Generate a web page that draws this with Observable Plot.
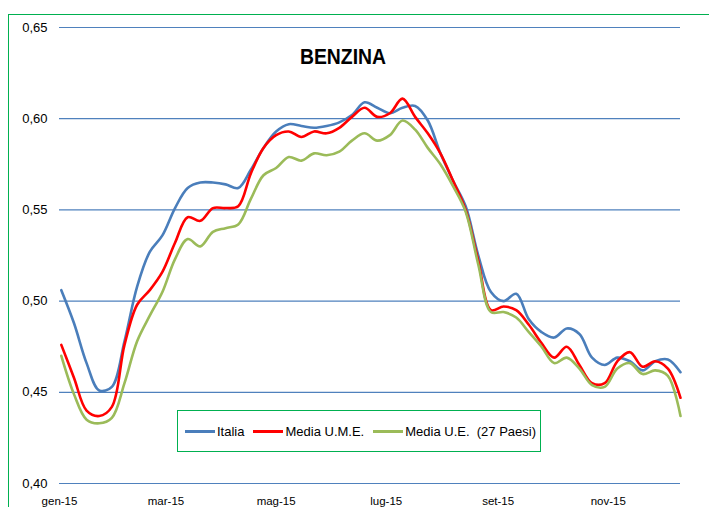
<!DOCTYPE html>
<html>
<head>
<meta charset="utf-8">
<script src="https://cdn.jsdelivr.net/npm/d3@7"></script>
<script src="https://cdn.jsdelivr.net/npm/@observablehq/plot@0.6"></script>
<style>
  html, body { margin: 0; padding: 0; background: #fff; overflow: hidden; }
  #wrap { position: relative; width: 709px; height: 507px; overflow: hidden; font-family: "Liberation Sans", Arial, sans-serif; }
  #frame { position: absolute; left: 8px; top: 14px; width: 900px; height: 700px; border: 1.5px solid #00b050; box-sizing: border-box; pointer-events: none; }
  #title { position: absolute; left: 243px; width: 200px; top: 44px; text-align: center; font-weight: bold; font-size: 22px; color: #000; transform: scaleX(0.88); }
  #legend { position: absolute; left: 177px; top: 410px; width: 364px; height: 42px; box-sizing: border-box; border: 1.5px solid #00b050; background: #fff; display: flex; align-items: center; padding-left: 7px; font-size: 13px; color: #000; white-space: pre; }
  .item { display: flex; align-items: center; margin-right: 9px; }
  .sw { width: 30px; height: 3px; margin-right: 2px; }
</style>
</head>
<body>
<div id="wrap">
  <div id="chart"></div>
  <div id="frame"></div>
  <div id="title">BENZINA</div>
  <div id="legend"></div>
</div>
<script>
// Weekly observation dates (2015)
const dates = [
  "2015-01-02","2015-01-09","2015-01-16","2015-01-23","2015-01-30",
  "2015-02-06","2015-02-13","2015-02-20","2015-02-27",
  "2015-03-06","2015-03-13","2015-03-20","2015-03-27",
  "2015-04-03","2015-04-10","2015-04-17","2015-04-24",
  "2015-05-01","2015-05-08","2015-05-15","2015-05-22","2015-05-29",
  "2015-06-05","2015-06-12","2015-06-19","2015-06-26",
  "2015-07-03","2015-07-10","2015-07-17","2015-07-24","2015-07-31",
  "2015-08-07","2015-08-14","2015-08-21","2015-08-28",
  "2015-09-04","2015-09-11","2015-09-18","2015-09-25",
  "2015-10-02","2015-10-09","2015-10-16","2015-10-23","2015-10-30",
  "2015-11-06","2015-11-13","2015-11-20","2015-11-27",
  "2015-12-04","2015-12-11"
];

const seriesNames = ["Italia", "Media U.M.E.", "Media U.E.  (27 Paesi)"];
const seriesColors = ["#4a7ebb", "#ff0000", "#9bbb59"];

const italia = [
  0.506,0.488,0.466,0.451,0.453,0.478,0.508,0.527,0.536,0.551,
  0.562,0.565,0.565,0.564,0.562,0.572,0.584,0.593,0.597,0.596,
  0.595,0.596,0.598,0.602,0.609,0.606,0.603,0.606,0.607,0.599,
  0.581,0.566,0.552,0.525,0.505,0.500,0.504,0.490,0.483,0.480,
  0.485,0.482,0.469,0.465,0.469,0.467,0.462,0.467,0.468,0.461
];
const mediaUME = [
  0.476,0.458,0.440,0.437,0.442,0.476,0.498,0.506,0.516,0.532,
  0.546,0.544,0.551,0.551,0.552,0.570,0.584,0.591,0.593,0.590,
  0.593,0.592,0.595,0.601,0.606,0.601,0.603,0.611,0.601,0.592,
  0.581,0.566,0.550,0.522,0.495,0.497,0.495,0.487,0.477,0.469,
  0.475,0.465,0.455,0.455,0.467,0.472,0.464,0.467,0.463,0.447
];
const mediaUE27 = [
  0.470,0.449,0.435,0.433,0.436,0.455,0.478,0.492,0.505,0.523,
  0.534,0.530,0.538,0.540,0.542,0.556,0.569,0.573,0.579,0.577,
  0.581,0.580,0.582,0.588,0.592,0.588,0.591,0.599,0.594,0.584,
  0.575,0.563,0.549,0.520,0.494,0.494,0.491,0.483,0.475,0.466,
  0.469,0.463,0.454,0.453,0.463,0.466,0.460,0.462,0.459,0.437
];

const yTicks = [0.40, 0.45, 0.50, 0.55, 0.60, 0.65];
const xTickDates = ["2015-01-01","2015-03-01","2015-05-01","2015-07-01","2015-09-01","2015-11-01"];
const xTickLabels = ["gen-15","mar-15","mag-15","lug-15","set-15","nov-15"];

const seriesValues = [italia, mediaUME, mediaUE27];
const data = [];
seriesNames.forEach((name, s) => {
  dates.forEach((d, i) => data.push({series: name, date: new Date(d), value: seriesValues[s][i]}));
});
const xTicks = xTickDates.map(d => new Date(d));
const labelOf = d => xTickLabels[xTicks.findIndex(t => t.getTime() === d.getTime())];

const chart = Plot.plot({
  width: 709,
  height: 507,
  marginLeft: 59,
  marginRight: 29,
  marginTop: 27,
  marginBottom: 24,
  style: {fontFamily: "'Liberation Sans', Arial, sans-serif", background: "transparent", color: "#000"},
  x: {type: "utc", domain: [new Date("2015-01-01"), new Date("2015-12-11")]},
  y: {domain: [0.40, 0.65]},
  color: {domain: seriesNames, range: seriesColors},
  marks: [
    Plot.ruleY(yTicks, {stroke: "#4f81bd", strokeWidth: 1.2}),
    Plot.axisY(yTicks, {tickSize: 0, tickPadding: 12, fontSize: 13, tickFormat: d => d.toFixed(2).replace(".", ","), label: null}),
    Plot.axisX(xTicks, {tickSize: 0, tickPadding: 13, fontSize: 11.5, tickFormat: labelOf, label: null}),
    Plot.line(data, {x: "date", y: "value", z: "series", stroke: "series", strokeWidth: 2.6, curve: "catmull-rom"})
  ]
});
document.getElementById("chart").appendChild(chart);

const legend = document.getElementById("legend");
seriesNames.forEach((name, i) => {
  const it = document.createElement("div");
  it.className = "item";
  const sw = document.createElement("div");
  sw.className = "sw";
  sw.style.background = seriesColors[i];
  const tx = document.createElement("span");
  tx.textContent = name;
  it.appendChild(sw); it.appendChild(tx);
  legend.appendChild(it);
});
</script>
</body>
</html>
